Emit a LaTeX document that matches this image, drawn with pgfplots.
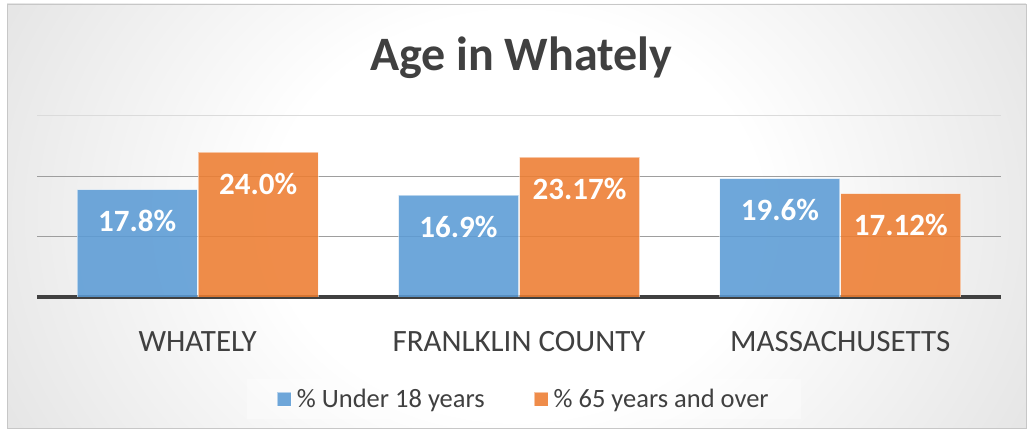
\documentclass[border=0pt]{standalone}
\usepackage{fontspec}
\setmainfont{Carlito}
\usepackage{pgfplots}
\pgfplotsset{compat=1.18}
\usepackage{pgfplotstable}
\definecolor{sblue}{HTML}{5B9BD5}
\definecolor{sorange}{HTML}{ED7D31}
\definecolor{txt}{HTML}{404040}
\definecolor{bgedge}{HTML}{C2C2C2}
\definecolor{bgcorner}{HTML}{BBBBBB}
\pgfdeclareradialshading{bgshade}{\pgfpoint{0bp}{0bp}}{color(0bp)=(white); color(12bp)=(white); color(50bp)=(bgedge); color(75bp)=(bgcorner)}

\pgfplotstableread{
x y lab
0 17.8 17.8
1 16.9 16.9
2 19.6 19.6
}\under
\pgfplotstableread{
x y lab
0 24.0 24.0
1 23.17 23.17
2 17.12 17.12
}\over

\begin{document}
\begin{tikzpicture}
\path[use as bounding box] (0,0) rectangle (1028bp,437bp);
\begin{scope}
\clip (7bp,9bp) rectangle (1026bp,433bp);
\shade[shading=bgshade] (7bp,-200bp) rectangle (1026bp,642bp);
\end{scope}
\draw[black!22, line width=0.8bp] (7bp,9bp) rectangle (1026bp,433bp);
\node[anchor=base, text=txt, font=\bfseries\fontsize{48bp}{56bp}\selectfont] at (521bp,366bp) {Age in Whately};
\begin{axis}[
  at={(37bp,140bp)}, anchor=south west, scale only axis,
  width=964bp, height=181bp,
  xmin=-0.5, xmax=2.5, ymin=0, ymax=30,
  ybar=1bp, bar width=120bp,
  axis lines*=left,
  y axis line style={draw=none},
  x axis line style={line width=3.5bp, draw=black!75, -},
  xtick={0,1,2},
  xticklabels={WHATELY, FRANLKLIN COUNTY, MASSACHUSETTS},
  xtick style={draw=none},
  xticklabel style={anchor=base, yshift=-50bp, text=txt, font=\fontsize{31bp}{36bp}\selectfont},
  ytick={10,20}, yticklabels={}, ytick style={draw=none},
  extra y ticks={30}, extra y tick labels={},
  extra y tick style={grid style={black!14, line width=1bp}, tick style={draw=none}},
  ymajorgrids, grid style={black!38, line width=1bp},
  point meta=explicit symbolic,
  nodes near coords={\pgfplotspointmeta\%},
  every node near coord/.append style={anchor=base, yshift=-42bp, text=white, text opacity=1, font=\bfseries\fontsize{31bp}{36bp}\selectfont},
  legend columns=2,
  legend style={at={(0.505,-0.565)}, anchor=center, draw=none, fill=white, fill opacity=0.35, text opacity=1,
    font=\fontsize{26.5bp}{31bp}\selectfont, text=txt, inner xsep=30bp, inner ysep=8bp,
    /tikz/every odd column/.append style={column sep=3bp},
    /tikz/every even column/.append style={column sep=47bp}},
  legend image code/.code={\fill[#1] (0bp,-7bp) rectangle (14bp,7bp);},
]
\addplot[fill=sblue, fill opacity=0.88, draw=white, draw opacity=0.5, line width=1bp] table[x=x, y=y, meta=lab] {\under};
\addplot[fill=sorange, fill opacity=0.88, draw=white, draw opacity=0.5, line width=1bp] table[x=x, y=y, meta=lab] {\over};
\legend{\% Under 18 years, \% 65 years and over}
\end{axis}
\end{tikzpicture}
\end{document}
